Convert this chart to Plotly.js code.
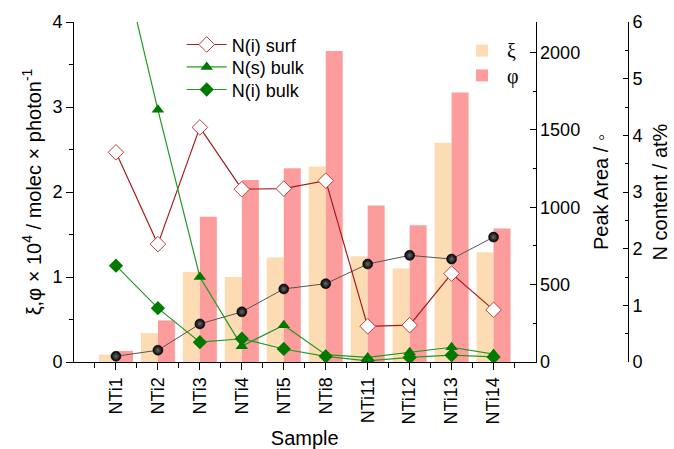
<!DOCTYPE html>
<html>
<head>
<meta charset="utf-8">
<script src="https://cdn.plot.ly/plotly-3.0.1.min.js"></script>
<style>html,body{margin:0;padding:0;background:#fff;}#chart{width:674px;height:449px;}</style>
</head>
<body>
<div id="chart"></div>
<script>
// ---- data ----
var samples = ["NTi1","NTi2","NTi3","NTi4","NTi5","NTi8","NTi11","NTi12","NTi13","NTi14"];
var xi  = [0.088, 0.34, 1.06, 1.00, 1.23, 2.30, 1.245, 1.10, 2.58, 1.29];
var phi = [0.13, 0.49, 1.71, 2.14, 2.28, 3.66, 1.84, 1.61, 3.17, 1.57];
var peakArea = [37, 76, 246, 324, 472, 506, 633, 689, 665, 807];
var nSurf  = [3.70, 2.08, 4.14, 3.05, 3.06, 3.20, 0.63, 0.65, 1.56, 0.92];
var nSBulk = [7.57, 4.45, 1.50, 0.28, 0.65, 0.13, 0.08, 0.17, 0.26, 0.14];
var nIBulk = [1.70, 0.95, 0.35, 0.41, 0.23, 0.10, 0.02, 0.08, 0.12, 0.09];
var idx = samples.map(function(_, i){ return i; });

var FONT = "Liberation Sans, Arial, sans-serif";
var traces = [
  {type:"bar", x:idx, y:xi, name:"ξ", legend:"legend2", marker:{color:"#fddcb4", line:{width:0}}, xaxis:"x", yaxis:"y"},
  {type:"bar", x:idx, y:phi, name:"φ", legend:"legend5", marker:{color:"#fc9c9c", line:{width:0}}, xaxis:"x", yaxis:"y"},
  {type:"scatter", mode:"lines+markers", x:idx, y:peakArea, yaxis:"y2", showlegend:false,
   line:{color:"#555555", width:1},
   marker:{symbol:"circle", size:10, color:"#000000", gradient:{type:"radial", color:"#6a6a6a"}, line:{color:"#000", width:0.5}}},
  {type:"scatter", mode:"lines+markers", x:idx, y:nSurf, yaxis:"y3", name:"N(i) surf", legend:"legend",
   line:{color:"#a21c1c", width:1.2},
   marker:{symbol:"diamond", size:12, color:"#ffffff", line:{color:"#b84040", width:1}}},
  {type:"scatter", mode:"lines+markers", x:idx, y:nSBulk, yaxis:"y3", name:"N(s) bulk", legend:"legend3",
   line:{color:"#229a22", width:1.2},
   marker:{symbol:"triangle-up", size:11, color:"#007a00"}},
  {type:"scatter", mode:"lines+markers", x:idx, y:nIBulk, yaxis:"y3", name:"N(i) bulk", legend:"legend4",
   line:{color:"#229a22", width:1.2},
   marker:{symbol:"diamond", size:11, color:"#007a00"}}
];

var W = 570; // paper width with margins l=74 r=30
var xdom = 461.5 / W;
function lineLegend(topPx){
  return {x:(181.7-74)/W, y:1-(topPx-22)/340, xanchor:"left", yanchor:"top", bgcolor:"rgba(0,0,0,0)", borderwidth:0,
    font:{family:FONT, size:18}, itemwidth:40};
}
function barLegend(topPx){
  return {x:(457-74)/W, y:1-(topPx-22)/340, xanchor:"left", yanchor:"top", bgcolor:"rgba(0,0,0,0)", borderwidth:0,
    font:{family:"Liberation Serif, serif", size:20}, itemwidth:40};
}
var layout = {
  width:674, height:449,
  margin:{l:74, r:30, t:22, b:87},
  paper_bgcolor:"#fff", plot_bgcolor:"#fff",
  font:{family:FONT, size:18, color:"#000"},
  barmode:"group", bargap:0.19, bargroupgap:0,
  showlegend:true,
  xaxis:{domain:[0,xdom], range:[-1,10], tickmode:"array", tickvals:idx, ticktext:samples,
    tickangle:-90, ticks:"outside", ticklen:7, tickcolor:"#000", showline:true, linecolor:"#000", linewidth:1,
    showgrid:false, zeroline:false,
    minor:{tickmode:"linear", tick0:-0.5, dtick:1, ticks:"outside", ticklen:5, tickcolor:"#000", showgrid:false},
    title:{text:"Sample", font:{size:20}, standoff:8}, automargin:false},
  xaxis2:{domain:[0,xdom], overlaying:"x", side:"top", anchor:"y", range:[-1,10], tickmode:"array", tickvals:idx,
    showticklabels:false, ticks:"inside", ticklen:7, tickcolor:"#000", showline:true, linecolor:"#000", linewidth:1,
    showgrid:false, zeroline:false,
    minor:{tickmode:"linear", tick0:-0.5, dtick:1, ticks:"inside", ticklen:5, tickcolor:"#000", showgrid:false}},
  yaxis:{range:[0,4], dtick:1, ticks:"outside", ticklen:7, tickcolor:"#000", showline:true, linecolor:"#000", linewidth:1,
    showgrid:false, zeroline:false,
    minor:{dtick:0.5, ticks:"outside", ticklen:4, tickcolor:"#000", showgrid:false},
    title:{text:"ξ,φ × 10<sup>4</sup> / molec × photon<sup>-1</sup>", font:{size:20}, standoff:5}, automargin:false},
  yaxis2:{overlaying:"y", anchor:"x", side:"right", range:[0,2197], dtick:500, ticks:"inside", ticklen:6, tickcolor:"#000",
    showline:true, linecolor:"#000", linewidth:1, showgrid:false, zeroline:false,
    minor:{dtick:250, ticks:"inside", ticklen:3, tickcolor:"#000", showgrid:false},
    title:{text:"Peak Area / ◦", font:{size:20}, standoff:14}, automargin:false},
  yaxis3:{overlaying:"y", anchor:"free", position:(628-74)/W, side:"right", range:[0,6], dtick:1, ticks:"inside", ticklen:5,
    tickcolor:"#000", showline:true, linecolor:"#000", linewidth:1, showgrid:false, zeroline:false,
    minor:{dtick:0.5, ticks:"inside", ticklen:3, tickcolor:"#000", showgrid:false},
    title:{text:"N content / at%", font:{size:20}, standoff:11}, automargin:false},
  legend: lineLegend(26.3),
  legend3: lineLegend(48.7),
  legend4: lineLegend(71.3),
  legend2: barLegend(31.1),
  legend5: barLegend(55.9)
};
Plotly.newPlot("chart", traces, layout, {displayModeBar:false, staticPlot:true});
</script>
</body>
</html>
